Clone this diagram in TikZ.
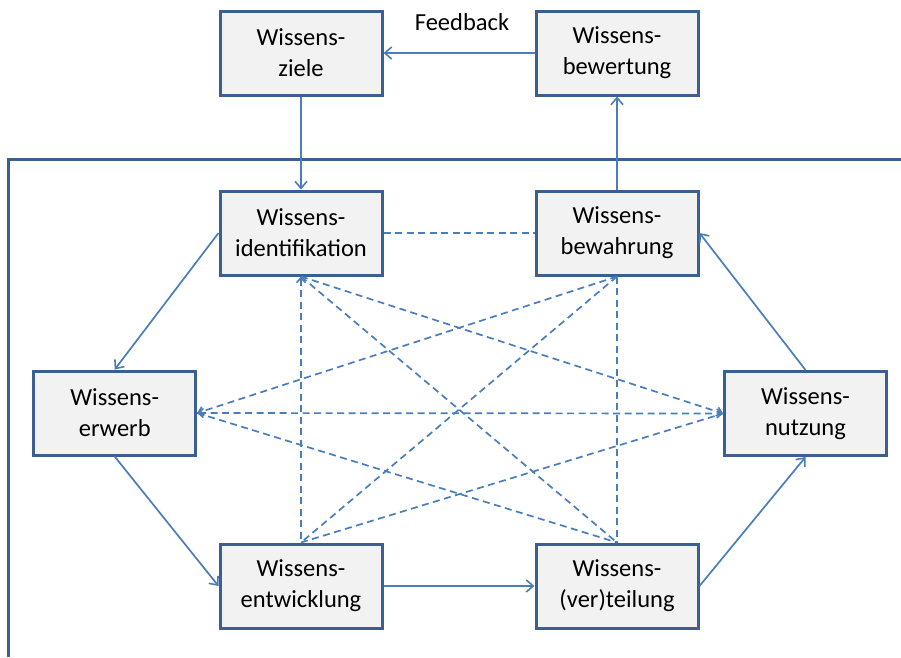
\documentclass[tikz,border=0pt]{standalone}
\usepackage{fontspec}
\setmainfont{Carlito}
\usetikzlibrary{arrows.meta}

\definecolor{boxborder}{HTML}{3C5F92}
\definecolor{boxfill}{HTML}{F2F2F2}
\definecolor{linkblue}{HTML}{4A7EBB}

\tikzset{
  phase/.style={draw=boxborder, fill=boxfill, line width=3pt,
    minimum width=162pt, minimum height=84pt, inner sep=0pt,
    align=center, font=\fontsize{24.5}{31}\selectfont},
  flow/.style={draw=linkblue, line width=1.7pt,
    -{Straight Barb[length=7pt,width=12pt,line width=1.6pt]}},
  cross/.style={draw=linkblue, line width=1.7pt, dash pattern=on 7pt off 4.5pt},
  crosstip/.tip={Straight Barb[length=5pt,width=9pt,line width=1.6pt]},
  frameline/.style={draw=boxborder, line width=3pt},
  labeltext/.style={font=\fontsize{24.5}{31}\selectfont, inner sep=0pt}
}

\begin{document}
\begin{tikzpicture}[x=1pt, y=-1pt]
\useasboundingbox (0,0) rectangle (901,657);

% organisational boundary
\draw[frameline] (8.5,657) -- (8.5,159) -- (901,159);

% strategic level
\node[phase] (ziele)     at (301,53) {Wissens-\\ziele};
\node[phase] (bewertung) at (617,53) {Wissens-\\bewertung};

% operative cycle
\node[phase] (ident)   at (301,233)   {Wissens-\\identifikation};
\node[phase] (bewahr)  at (617,233)   {Wissens-\\bewahrung};
\node[phase] (erwerb)  at (114.7,413) {Wissens-\\erwerb};
\node[phase] (nutzung) at (805.5,413.5) {Wissens-\\nutzung};
\node[phase] (entw)    at (301,586)   {Wissens-\\entwicklung};
\node[phase] (verteil) at (617,586)   {Wissens-\\(ver)teilung};

\node[labeltext] (feedback) at (462,22) {Feedback};

% cross links between the building blocks
\draw[cross] (ident.east) -- (bewahr.west);
\draw[cross, crosstip-] (ident.south) -- (entw.north);
\draw[cross] (ident.south) -- (verteil.north);
\draw[cross, -crosstip] (ident.south) -- (nutzung.west);
\draw[cross] (bewahr.south) -- (verteil.north);
\draw[cross] (bewahr.south) -- (entw.north);
\draw[cross, -crosstip] (bewahr.south) -- (erwerb.east);
\draw[cross, crosstip-crosstip] (erwerb.east) -- (nutzung.west);
\draw[cross] (erwerb.east) -- (verteil.north);
\draw[cross] (entw.north) -- (nutzung.west);

% main flow
\draw[flow] (bewertung.west) -- (ziele.east);
\draw[flow] (ziele.south) -- (ident.north);
\draw[flow] (bewahr.north) -- (bewertung.south);
\draw[flow] (ident.west) -- (erwerb.north);
\draw[flow] (erwerb.south) -- (entw.west);
\draw[flow] (entw.east) -- (verteil.west);
\draw[flow] (verteil.east) -- (nutzung.south);
\draw[flow] (nutzung.north) -- (bewahr.east);
\end{tikzpicture}
\end{document}
